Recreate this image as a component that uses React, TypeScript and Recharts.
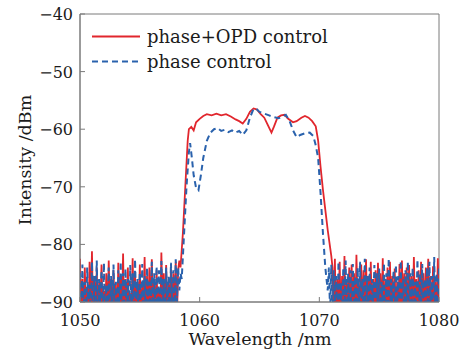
import React from "react";
import { Line, LineChart, ReferenceArea, XAxis, YAxis } from "recharts";

const RED = "#e1262d";
const BLUE = "#2a62ad";
const FRAME = "#7a7a7a";
const FONT = "'DejaVu Serif', serif";

const xTicks = [1050, 1060, 1070, 1080];
const yTicks = [-90, -80, -70, -60, -50, -40];

// noise floor, sampled every 0.1 nm
const NOISE_STEP = 0.1;
const redLeftStart = 1050.0;
const redLeftNoise = [
  -82.5, -93, -86, -95, -84, -92, -87.5, -94, -83, -91.5,
  -81.2, -94, -85.5, -92.5, -84, -95, -86.5, -91, -83.5, -93.5,
  -88, -92, -85, -95.5, -82.8, -91.5, -86, -94, -84.5, -92,
  -87, -95, -83.2, -91, -85.5, -93, -81.6, -94.5, -86, -92,
  -84, -95, -88.5, -91.5, -82.4, -93, -85, -94, -86.5, -92.5,
  -83.5, -95, -87, -91, -82.2, -94, -85.5, -92, -84, -93.5,
  -82.6, -91.5, -86, -95, -84.5, -92, -88, -94, -81.4, -91,
  -85, -93, -83.6, -95, -86.5, -92, -84.2, -94, -85, -91.5,
  -83, -93, -84.5, -82.8,
];
const redRightStart = 1071.1;
const redRightNoise = [
  -84, -93, -82.5, -95, -86, -91.5, -83, -94, -85.5, -92,
  -82, -95, -86.5, -91, -84, -93.5, -83.5, -92, -85, -94.5,
  -81.8, -91, -86, -95, -83.5, -92.5, -84.5, -94, -82.6, -91.5,
  -85.5, -93, -83, -95, -86, -92, -84.5, -94, -83.2, -91,
  -85, -93.5, -82.4, -95, -86, -92, -84, -94, -83, -91.5,
  -85.5, -93, -84.2, -95, -86.5, -92, -83.4, -94, -82.8, -91,
  -85, -93.5, -84, -95, -83.6, -92, -85.5, -94, -82.2, -91.5,
  -86, -93, -84.5, -95, -83, -92, -85, -94, -84, -91,
  -82.5, -93.5, -85.5, -95, -83.8, -92, -86.5, -94, -82.4, -91,
];
const blueLeftStart = 1050.0;
const blueLeftNoise = [
  -85, -94, -83.5, -92, -86.5, -95, -84, -91.5, -87, -93,
  -83, -95, -85.5, -92, -82.8, -94, -86, -91, -84.5, -93.5,
  -83.2, -95.5, -87, -92, -84, -94, -85.5, -91.5, -83.5, -93,
  -86.5, -95, -84.5, -92, -83, -94, -85, -91, -84.2, -93.5,
  -86, -95, -83.6, -92, -85, -94, -82.6, -91.5, -86, -93,
  -84.8, -95, -83.4, -92, -85.5, -94, -84, -91, -86.5, -93.5,
  -83, -95, -85, -92, -83.8, -94, -84.5, -91.5, -82.9, -93,
  -86, -95, -84, -92, -85.5, -94, -83.2, -91, -84.5, -93,
  -82.6, -90, -84, -88, -85,
];
const blueRightStart = 1070.8;
const blueRightNoise = [
  -84, -92, -83.5, -94, -84.5, -91, -85.5, -95, -83, -92.5,
  -86.5, -94, -84, -91.5, -82.8, -95, -85, -92, -84.5, -93.5,
  -83.4, -91, -85.5, -95, -84, -92.5, -83, -94, -86, -91.5,
  -82.5, -95, -85.5, -92, -84, -93.5, -86, -91, -83.6, -94,
  -85, -92, -84.2, -95, -86.5, -91.5, -83.2, -94, -85, -92,
  -82.4, -95, -86, -91, -84.5, -93.5, -83.5, -92, -85.5, -94,
  -82.8, -91.5, -86, -95, -84.5, -92, -83, -94, -85, -91,
  -84, -93.5, -86.5, -92, -82.6, -95, -85, -91.5, -83.4, -94,
  -86, -92, -84, -93.5, -83, -91, -85.5, -95, -82.2, -92,
  -85, -94, -84,
];

// pass band
const redBandWl = [
  1058.4, 1058.6, 1058.8, 1059.0, 1059.1, 1059.3, 1059.5, 1059.7, 1060.0, 1060.3,
  1060.6, 1061.0, 1061.4, 1061.8, 1062.2, 1062.6, 1063.0, 1063.3, 1063.6, 1063.9,
  1064.2, 1064.5, 1064.8, 1065.1, 1065.4, 1065.7, 1066.0, 1066.2, 1066.5, 1066.8,
  1067.1, 1067.4, 1067.8, 1068.1, 1068.5, 1068.8, 1069.1, 1069.4, 1069.7, 1069.9,
  1070.1, 1070.3, 1070.5, 1070.7, 1070.9, 1071.0,
];
const redBand = [
  -84, -78, -70, -62, -60, -59.6, -60.2, -58.8, -58.2, -57.7,
  -57.4, -57.6, -57.3, -57.6, -57.4, -57.8, -58.3, -58.6, -59.0, -58.2,
  -57.0, -56.4, -56.6, -57.4, -58.0, -59.3, -60.6, -59.6, -58.0, -57.6,
  -57.5, -58.2, -58.8, -58.6, -58.0, -57.7, -58.0, -58.6, -59.5, -62,
  -66.5, -70.5, -74, -77.5, -80.5, -82,
];
const blueBandWl = [
  1058.5, 1058.7, 1058.9, 1059.1, 1059.2, 1059.35, 1059.5, 1059.7, 1059.9, 1060.1,
  1060.3, 1060.6, 1060.9, 1061.2, 1061.5, 1061.8, 1062.1, 1062.4, 1062.7, 1063.0,
  1063.3, 1063.6, 1063.9, 1064.2, 1064.5, 1064.7, 1065.0, 1065.4, 1065.8, 1066.2,
  1066.6, 1066.9, 1067.2, 1067.5, 1067.8, 1068.1, 1068.4, 1068.8, 1069.2, 1069.5,
  1069.7, 1069.9, 1070.1, 1070.3, 1070.5, 1070.7,
];
const blueBand = [
  -86, -78, -70, -64, -62.4, -65, -68, -70.2, -70.6, -68,
  -65, -62, -60.6, -60, -59.8, -60.3, -60.1, -60.5, -60.2, -60.6,
  -60.3, -61.0, -60.2, -58, -56.5, -56.4, -57.0, -57.3, -57.6, -57.9,
  -58.1, -57.8, -57.5, -58.5, -60.2, -61.4, -61.0, -60.7, -60.6, -61.2,
  -62.8, -65, -71, -78, -84, -88,
];

const noisePts = (start: number, vals: number[]) =>
  vals.map((v, i) => ({ wl: +(start + i * NOISE_STEP).toFixed(2), v }));
const bandPts = (wl: number[], vals: number[]) => wl.map((w, i) => ({ wl: w, v: vals[i] }));

const redData = [
  ...noisePts(redLeftStart, redLeftNoise),
  ...bandPts(redBandWl, redBand),
  ...noisePts(redRightStart, redRightNoise),
];
const blueData = [
  ...noisePts(blueLeftStart, blueLeftNoise),
  ...bandPts(blueBandWl, blueBand),
  ...noisePts(blueRightStart, blueRightNoise),
];

const fmtMinus = (v: number) => String(v).replace("-", "\u2212");

// ticks point inward, labels outside
function YTick({ x, y, payload }: any) {
  return (
    <g>
      <line x1={x} x2={x + 5} y1={y} y2={y} stroke={FRAME} strokeWidth={1} />
      <text x={x - 7} y={y + 6} textAnchor="end" fontSize={16} fontFamily={FONT} fill="#1b1b1b">
        {fmtMinus(payload.value)}
      </text>
    </g>
  );
}

function XTick({ x, y, payload }: any) {
  return (
    <g>
      <line x1={x} x2={x} y1={y} y2={y - 5} stroke={FRAME} strokeWidth={1} />
      <text x={x} y={y + 24} textAnchor="middle" fontSize={16} fontFamily={FONT} fill="#1b1b1b">
        {payload.value}
      </text>
    </g>
  );
}

const legendRows = [
  { name: "phase+OPD control", color: RED, dash: undefined as string | undefined },
  { name: "phase control", color: BLUE, dash: "6 4" },
];

export default function App() {
  return (
    <div style={{ position: "absolute", left: 0, top: 0, width: 464, height: 353, background: "#fff" }}>
      <LineChart width={464} height={353} margin={{ top: 14, right: 25, bottom: 21, left: 20 }}>
        <XAxis
          dataKey="wl"
          type="number"
          domain={[1050, 1080]}
          ticks={xTicks}
          allowDataOverflow
          axisLine={{ stroke: FRAME }}
          tickLine={false}
          tickSize={0}
          tickMargin={0}
          height={30}
          tick={<XTick />}
        />
        <YAxis
          type="number"
          domain={[-90, -40]}
          ticks={yTicks}
          allowDataOverflow
          axisLine={{ stroke: FRAME }}
          tickLine={false}
          tickSize={0}
          tickMargin={0}
          width={60}
          tick={<YTick />}
        />
        <ReferenceArea x1={1050} x2={1080} y1={-90} y2={-40} fill="none" stroke={FRAME} strokeWidth={1} />
        <Line
          data={redData}
          dataKey="v"
          stroke={RED}
          strokeWidth={1.8}
          dot={false}
          isAnimationActive={false}
        />
        <Line
          data={blueData}
          dataKey="v"
          stroke={BLUE}
          strokeWidth={2}
          strokeDasharray="6 4"
          dot={false}
          isAnimationActive={false}
        />
      </LineChart>

      {/* legend */}
      <div style={{ position: "absolute", left: 92, top: 24, fontFamily: FONT, fontSize: 18, color: "#1b1b1b" }}>
        {legendRows.map((r) => (
          <div key={r.name} style={{ display: "flex", alignItems: "center", height: 25, whiteSpace: "nowrap" }}>
            <svg width={55} height={25} style={{ display: "block" }}>
              <line x1={0} x2={48} y1={12.5} y2={12.5} stroke={r.color} strokeWidth={2} strokeDasharray={r.dash} />
            </svg>
            <span style={{ lineHeight: "25px" }}>{r.name}</span>
          </div>
        ))}
      </div>

      {/* axis titles */}
      <div
        style={{
          position: "absolute",
          left: 260,
          top: 331,
          transform: "translateX(-50%)",
          fontFamily: FONT,
          fontSize: 17.5,
          lineHeight: 1,
          whiteSpace: "nowrap",
          color: "#1b1b1b",
        }}
      >
        Wavelength /nm
      </div>
      <div
        style={{
          position: "absolute",
          left: 26,
          top: 160,
          transform: "translate(-50%, -50%) rotate(-90deg)",
          fontFamily: FONT,
          fontSize: 17.5,
          lineHeight: 1,
          whiteSpace: "nowrap",
          color: "#1b1b1b",
        }}
      >
        Intensity /dBm
      </div>
    </div>
  );
}
